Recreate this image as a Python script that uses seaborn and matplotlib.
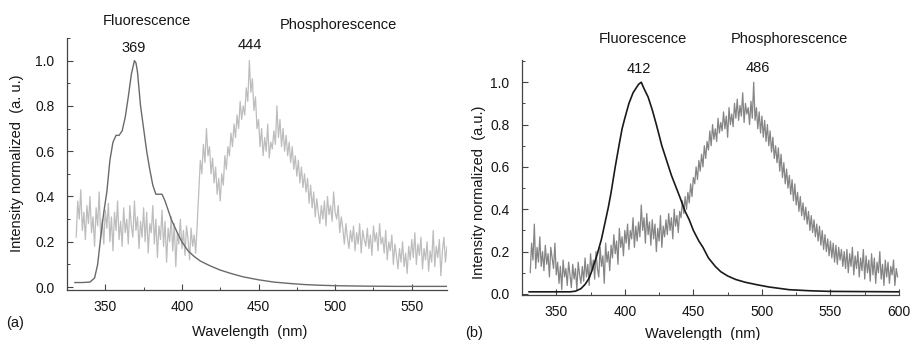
import numpy as np
import pandas as pd
import seaborn as sns
import matplotlib
matplotlib.use("Agg")
import matplotlib.pyplot as plt
from matplotlib.ticker import MultipleLocator, FormatStrFormatter

# ---------------- Panel (a) data ----------------
a_fluo_wl = [330, 335, 340, 343, 345, 347, 349, 351, 353, 355, 357, 359, 361, 363, 365, 367,
             369, 370, 371, 373, 375, 377, 379, 381, 383, 385, 387, 389, 391, 393, 395, 397,
             400, 404, 408, 412, 418, 425, 432, 440, 450, 460, 470, 480, 490, 500, 520, 540, 573]
a_fluo_int = [0.02, 0.02, 0.022, 0.04, 0.10, 0.22, 0.33, 0.42, 0.56, 0.64, 0.67, 0.67, 0.69, 0.75, 0.84, 0.94,
              1.00, 0.99, 0.95, 0.80, 0.70, 0.60, 0.52, 0.45, 0.41, 0.41, 0.41, 0.38, 0.34, 0.30, 0.27, 0.24,
              0.20, 0.16, 0.135, 0.115, 0.095, 0.075, 0.06, 0.045, 0.032, 0.022, 0.016, 0.011, 0.008, 0.006, 0.004, 0.003, 0.003]

a_phos_wl = list(range(331, 574))
a_phos_int = [
    0.22, 0.38, 0.30, 0.43, 0.25, 0.33, 0.21, 0.36, 0.28, 0.40,
    0.24, 0.31, 0.18, 0.35, 0.27, 0.42, 0.22, 0.30, 0.19, 0.34,
    0.26, 0.37, 0.20, 0.31, 0.16, 0.33, 0.25, 0.38, 0.21, 0.29,
    0.18, 0.35, 0.24, 0.30, 0.19, 0.36, 0.27, 0.22, 0.38, 0.25,
    0.31, 0.17, 0.29, 0.22, 0.35, 0.20, 0.33, 0.15, 0.28, 0.24,
    0.36, 0.19, 0.30, 0.13, 0.27, 0.21, 0.34, 0.18, 0.29, 0.11,
    0.26, 0.20, 0.31, 0.16, 0.28, 0.09, 0.24, 0.19, 0.30, 0.17,
    0.25, 0.14, 0.27, 0.21, 0.12, 0.26, 0.18, 0.23, 0.15, 0.28,
    0.42, 0.56, 0.50, 0.63, 0.55, 0.70, 0.58, 0.62, 0.50, 0.57,
    0.46, 0.53, 0.41, 0.48, 0.38, 0.50, 0.45, 0.58, 0.52, 0.62,
    0.58, 0.68, 0.62, 0.72, 0.66, 0.76, 0.70, 0.82, 0.74, 0.80,
    0.76, 0.88, 0.82, 1.00, 0.86, 0.92, 0.78, 0.84, 0.70, 0.74,
    0.62, 0.70, 0.58, 0.66, 0.60, 0.72, 0.57, 0.64, 0.61, 0.69,
    0.63, 0.80, 0.66, 0.74, 0.62, 0.70, 0.60, 0.67, 0.58, 0.64,
    0.55, 0.62, 0.52, 0.58, 0.49, 0.56, 0.46, 0.53, 0.44, 0.50,
    0.42, 0.48, 0.37, 0.45, 0.35, 0.42, 0.31, 0.39, 0.33, 0.28,
    0.36, 0.30, 0.38, 0.27, 0.40, 0.32, 0.36, 0.29, 0.42, 0.33,
    0.30, 0.36, 0.24, 0.31, 0.26, 0.19, 0.28, 0.22, 0.17, 0.25,
    0.20, 0.27, 0.16, 0.24, 0.19, 0.28, 0.15, 0.25, 0.21, 0.18,
    0.26, 0.17, 0.23, 0.14, 0.27, 0.20, 0.24, 0.16, 0.28, 0.19,
    0.22, 0.15, 0.25, 0.12, 0.20, 0.16, 0.23, 0.10, 0.19, 0.14,
    0.08, 0.17, 0.11, 0.20, 0.09, 0.15, 0.06, 0.18, 0.12, 0.21,
    0.13, 0.24, 0.10, 0.19, 0.14, 0.22, 0.08, 0.17, 0.12, 0.20,
    0.07, 0.16, 0.11, 0.25, 0.09, 0.18, 0.13, 0.21, 0.05, 0.16,
    0.22, 0.11, 0.18,
]

# ---------------- Panel (b) data ----------------
b_fluo_wl = [330, 345, 360, 364, 368, 371, 374, 376, 378, 380, 383, 386, 388, 390, 393, 396, 398, 400,
             403, 406, 408, 410, 412, 414, 417, 420, 423, 427, 430, 434, 437, 440, 444, 447, 450, 454,
             457, 461, 466, 470, 475, 481, 488, 496, 505, 520, 535, 550, 575, 600]
b_fluo_int = [0.01, 0.01, 0.01, 0.013, 0.025, 0.045, 0.075, 0.11, 0.15, 0.19, 0.26, 0.35, 0.41, 0.48, 0.60, 0.71, 0.78, 0.83,
              0.90, 0.95, 0.97, 0.99, 1.00, 0.97, 0.93, 0.87, 0.80, 0.70, 0.64, 0.56, 0.51, 0.46, 0.39, 0.35, 0.30, 0.25,
              0.22, 0.17, 0.13, 0.105, 0.085, 0.068, 0.055, 0.044, 0.033, 0.02, 0.015, 0.012, 0.011, 0.01]

b_phos_wl = list(range(331, 600))
b_phos_int = [
    0.10, 0.24, 0.16, 0.33, 0.12, 0.22, 0.15, 0.27, 0.13, 0.20,
    0.11, 0.23, 0.14, 0.19, 0.08, 0.22, 0.17, 0.12, 0.24, 0.09,
    0.15, 0.05, 0.13, 0.02, 0.16, 0.08, 0.12, 0.04, 0.15, 0.09,
    0.03, 0.14, 0.07, 0.12, 0.02, 0.15, 0.09, 0.05, 0.13, 0.06,
    0.17, 0.08, 0.14, 0.04, 0.19, 0.11, 0.16, 0.07, 0.20, 0.12,
    0.08, 0.22, 0.13, 0.18, 0.05, 0.24, 0.15, 0.20, 0.11, 0.23,
    0.17, 0.28, 0.19, 0.25, 0.14, 0.31, 0.22, 0.27, 0.18, 0.30,
    0.24, 0.33, 0.21, 0.30, 0.26, 0.36, 0.22, 0.32, 0.25, 0.34,
    0.27, 0.42, 0.30, 0.36, 0.24, 0.38, 0.28, 0.34, 0.23, 0.35,
    0.26, 0.33, 0.20, 0.31, 0.25, 0.37, 0.22, 0.32, 0.27, 0.35,
    0.28, 0.38, 0.30, 0.36, 0.26, 0.40, 0.32, 0.37, 0.29, 0.39,
    0.36, 0.44, 0.38, 0.46, 0.40, 0.48, 0.43, 0.52, 0.46, 0.55,
    0.52, 0.60, 0.54, 0.63, 0.58, 0.66, 0.60, 0.70, 0.64, 0.72,
    0.68, 0.77, 0.70, 0.80, 0.73, 0.78, 0.72, 0.83, 0.76, 0.81,
    0.77, 0.86, 0.78, 0.84, 0.74, 0.88, 0.80, 0.85, 0.79, 0.90,
    0.83, 0.92, 0.82, 0.89, 0.84, 0.95, 0.81, 0.90, 0.85, 0.88,
    0.80, 0.91, 0.83, 1.00, 0.82, 0.88, 0.78, 0.86, 0.76, 0.84,
    0.74, 0.82, 0.72, 0.80, 0.70, 0.77, 0.67, 0.74, 0.64, 0.70,
    0.62, 0.69, 0.58, 0.66, 0.55, 0.62, 0.52, 0.59, 0.50, 0.56,
    0.47, 0.54, 0.44, 0.52, 0.42, 0.48, 0.39, 0.46, 0.37, 0.43,
    0.35, 0.41, 0.33, 0.39, 0.30, 0.37, 0.29, 0.35, 0.27, 0.33,
    0.25, 0.32, 0.23, 0.30, 0.21, 0.28, 0.20, 0.26, 0.18, 0.25,
    0.17, 0.24, 0.15, 0.23, 0.14, 0.22, 0.16, 0.21, 0.13, 0.20,
    0.12, 0.21, 0.10, 0.19, 0.13, 0.22, 0.09, 0.18, 0.12, 0.20,
    0.08, 0.17, 0.11, 0.21, 0.07, 0.18, 0.10, 0.16, 0.06, 0.19,
    0.09, 0.17, 0.05, 0.15, 0.10, 0.20, 0.07, 0.14, 0.04, 0.16,
    0.08, 0.15, 0.05, 0.13, 0.09, 0.16, 0.04, 0.12, 0.08,
]

a_peaks = ["369", "444"]
b_peaks = ["412", "486"]
y_ticks = [0.0, 0.2, 0.4, 0.6, 0.8, 1.0]
a_x_ticks = [350, 400, 450, 500, 550]
b_x_ticks = [350, 400, 450, 500, 550, 600]

sns.set_style("ticks")
plt.rcParams["font.family"] = ["Liberation Sans", "DejaVu Sans"]
TXT = "#151515"

W, H = 912, 340
fig = plt.figure(figsize=(W / 100, H / 100), dpi=100)

def box(l, t, r, b):
    return [l / W, 1 - b / H, (r - l) / W, (b - t) / H]

ax_a = fig.add_axes(box(67, 38, 447, 290))
ax_b = fig.add_axes(box(522, 60, 899, 295))

sns.lineplot(x=a_phos_wl, y=a_phos_int, ax=ax_a, color="#bdbdbd", linewidth=0.9)
sns.lineplot(x=a_fluo_wl, y=a_fluo_int, ax=ax_a, color="#6a6a6a", linewidth=1.0)
sns.lineplot(x=b_phos_wl, y=b_phos_int, ax=ax_b, color="#858585", linewidth=0.9)
sns.lineplot(x=b_fluo_wl, y=b_fluo_int, ax=ax_b, color="#1a1a1a", linewidth=1.2)

for ax, xt, xl, yl in [(ax_a, a_x_ticks, (325, 573), (-0.013, 1.10)),
                       (ax_b, b_x_ticks, (325, 600), (-0.005, 1.105))]:
    ax.set_xlim(*xl)
    ax.set_ylim(*yl)
    ax.set_xticks(xt)
    ax.set_yticks(y_ticks)
    ax.xaxis.set_minor_locator(MultipleLocator(25))
    ax.yaxis.set_minor_locator(MultipleLocator(0.1))
    ax.yaxis.set_major_formatter(FormatStrFormatter("%.1f"))
    ax.tick_params(which="major", direction="in", length=4, width=0.8, color="#444444",
                   labelsize=10, labelcolor=TXT)
    ax.tick_params(axis="y", which="major", pad=9)
    ax.tick_params(axis="x", which="major", pad=7)
    ax.tick_params(which="minor", direction="in", length=2.5, width=0.7, color="#444444")
    for s in ["top", "right"]:
        ax.spines[s].set_visible(False)
    for s in ["left", "bottom"]:
        ax.spines[s].set_color("#444444")
        ax.spines[s].set_linewidth(0.9)
    ax.set_xlabel("")
    ax.set_ylabel("")

def txt(x, y, s, **kw):
    fig.text(x / W, 1 - y / H, s, ha="center", va="center", color=TXT, **kw)

FS = 10.5
txt(147, 21, "Fluorescence", fontsize=FS)
txt(338, 25, "Phosphorescence", fontsize=FS)
txt(134, 48, a_peaks[0], fontsize=FS)
txt(250, 45, a_peaks[1], fontsize=FS)
txt(643, 39, "Fluorescence", fontsize=FS)
txt(789, 39, "Phosphorescence", fontsize=FS)
txt(639, 69, b_peaks[0], fontsize=FS)
txt(758, 68, b_peaks[1], fontsize=FS)
txt(15, 323, "(a)", fontsize=FS)
txt(474, 333, "(b)", fontsize=FS)
txt(250, 332, "Wavelength  (nm)", fontsize=FS)
txt(703, 334, "Wavelength  (nm)", fontsize=FS)
txt(17, 163, "Intensity normalized  (a. u.)", fontsize=FS, rotation=90)
txt(479, 192, "Intensity normalized  (a.u.)", fontsize=FS, rotation=90)

fig.savefig("out.png", dpi=100)
